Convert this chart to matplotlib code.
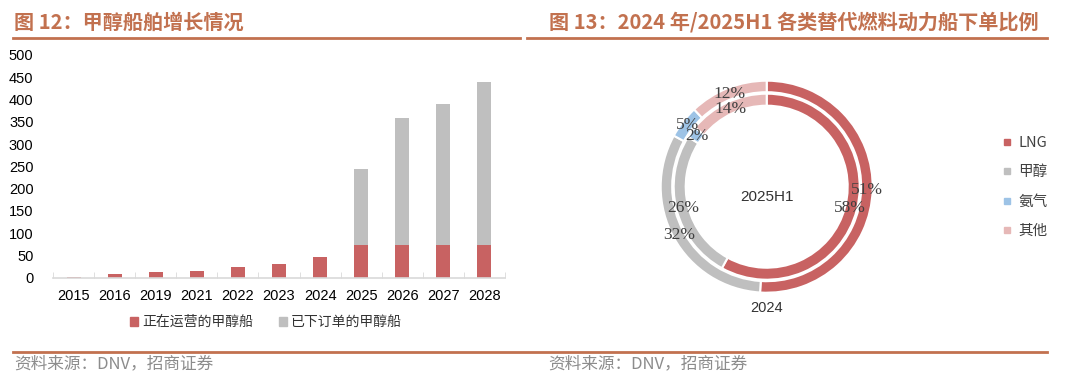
import matplotlib
matplotlib.use("Agg")
import matplotlib.pyplot as plt
from matplotlib.lines import Line2D
from matplotlib.patches import Patch
import numpy as np

plt.rcParams['font.family'] = ['Noto Sans CJK SC', 'DejaVu Sans']

# ---- data ----
years = ['2015', '2016', '2019', '2021', '2022', '2023', '2024', '2025', '2026', '2027', '2028']
operating = [2, 8, 13, 16, 25, 30, 46, 73, 73, 73, 73]
ordered = [0, 0, 0, 0, 0, 0, 0, 171, 286, 318, 366]
bar_labels = ['正在运营的甲醇船', '已下订单的甲醇船']

fuel_types = ['LNG', '甲醇', '氨气', '其他']
share_2024 = [51, 32, 5, 12]
share_2025h1 = [58, 26, 2, 14]

title_left = '图 12：甲醇船舶增长情况'
title_right = '图 13：2024 年/2025H1 各类替代燃料动力船下单比例'
source_text = '资料来源：DNV，招商证券'

# ---- style ----
RED = '#C86262'
GRAY = '#BFBFBF'
BLUE = '#9DC3E6'
PINK = '#E6B8B7'
ACCENT = '#C2714F'
pie_colors = [RED, GRAY, BLUE, PINK]

W, H = 1080, 381
fig = plt.figure(figsize=(W / 100, H / 100), dpi=100)

def fx(px):
    return px / W

def fy(py):
    return 1 - py / H

# ---- bar chart ----
ax = fig.add_axes([fx(53), fy(277.7), fx(505 - 53), fy(55) - fy(277.7)])
x = np.arange(len(years))
ax.bar(x, operating, width=0.34, color=RED, label=bar_labels[0], zorder=2)
ax.bar(x, ordered, width=0.34, bottom=operating, color=GRAY, label=bar_labels[1], zorder=2)
ax.set_xlim(-0.5, len(years) - 0.5)
ax.set_ylim(0, 500)
ax.set_yticks(np.arange(0, 501, 50))
ax.set_xticks(x)
ax.set_xticklabels(years)
ax.set_xticks(np.arange(-0.5, len(years), 1), minor=True)
for s in ['top', 'right', 'left']:
    ax.spines[s].set_visible(False)
ax.spines['bottom'].set_color('#D9D9D9')
ax.spines['bottom'].set_linewidth(1.2)
ax.tick_params(axis='y', length=0, pad=14, labelsize=10.5)
ax.tick_params(axis='x', which='major', length=0, pad=8, labelsize=10.5)
ax.tick_params(axis='x', which='minor', length=4, direction='in', color='#D9D9D9')
for lab in ax.get_xticklabels() + ax.get_yticklabels():
    lab.set_fontfamily(['Liberation Sans', 'DejaVu Sans'])
    lab.set_color('#000000')

fig.legend(handles=[Patch(color=RED), Patch(color=GRAY)], labels=bar_labels,
           loc='center', bbox_to_anchor=(fx(266), fy(322)), ncol=2, frameon=False,
           fontsize=10, handlelength=0.6, handleheight=0.6, handletextpad=0.3,
           columnspacing=1.8, labelcolor='#333333')

# ---- doughnut ----
cx, cy = 766.7, 186.7
half = 112
pax = fig.add_axes([fx(cx - half), fy(cy + half), fx(2 * half), fy(cy - half) - fy(cy + half)])
pax.set_xlim(-half, half)
pax.set_ylim(-half, half)
pax.set_aspect('equal')
pax.axis('off')

r_out, w_out = 106, 11.5
r_in, w_in = 93, 12
pax.pie(share_2024, radius=r_out, colors=pie_colors, startangle=90, counterclock=False,
        wedgeprops=dict(width=w_out, edgecolor='white', linewidth=1.5))
pax.pie(share_2025h1, radius=r_in, colors=pie_colors, startangle=90, counterclock=False,
        wedgeprops=dict(width=w_in, edgecolor='white', linewidth=1.5))
pax.set_xlim(-half, half)
pax.set_ylim(-half, half)

def label_ring(values, rmid):
    cum = 0
    tot = sum(values)
    for v in values:
        mid = (cum + v / 2) / tot
        ang = np.deg2rad(90 - 360 * mid)
        pax.text(rmid * np.cos(ang), rmid * np.sin(ang), f'{v}%', ha='center', va='center',
                 fontsize=12.5, color='#404040', family=['Liberation Serif', 'DejaVu Serif'])
        cum += v

label_ring(share_2024, 100)
label_ring(share_2025h1, 86)

pax.text(0, -10, '2025H1', ha='center', va='center', fontsize=11, color='#333333',
         family=['Liberation Sans', 'DejaVu Sans'])
pax.text(0, -121, '2024', ha='center', va='center', fontsize=10.5, color='#333333',
         family=['Liberation Sans', 'DejaVu Sans'], clip_on=False)

handles = [Line2D([], [], marker='s', linestyle='none', markersize=4.5, color=c) for c in pie_colors]
fig.legend(handles=handles, labels=fuel_types, loc='center left',
           bbox_to_anchor=(fx(988), fy(187)), frameon=False, fontsize=10.5,
           handlelength=0.8, handletextpad=0.4, labelspacing=1.05, labelcolor='#404040')

# ---- titles and frame lines ----
fig.text(fx(14), fy(22), title_left, ha='left', va='center', fontsize=14.5,
         fontweight='bold', color=ACCENT)
fig.text(fx(549), fy(22), title_right, ha='left', va='center', fontsize=14.5,
         fontweight='bold', color=ACCENT)
fig.add_artist(Line2D([fx(13), fx(520)], [fy(37.5), fy(37.5)], color=ACCENT, lw=2))
fig.add_artist(Line2D([fx(527), fx(1047)], [fy(37.5), fy(37.5)], color=ACCENT, lw=2))
fig.add_artist(Line2D([fx(13), fx(1047)], [fy(351.5), fy(351.5)], color=ACCENT, lw=2))
fig.text(fx(14), fy(364), source_text, ha='left', va='center', fontsize=12, color='#8C8C8C')
fig.text(fx(548), fy(364), source_text, ha='left', va='center', fontsize=12, color='#8C8C8C')

fig.savefig('out.png', dpi=100)
